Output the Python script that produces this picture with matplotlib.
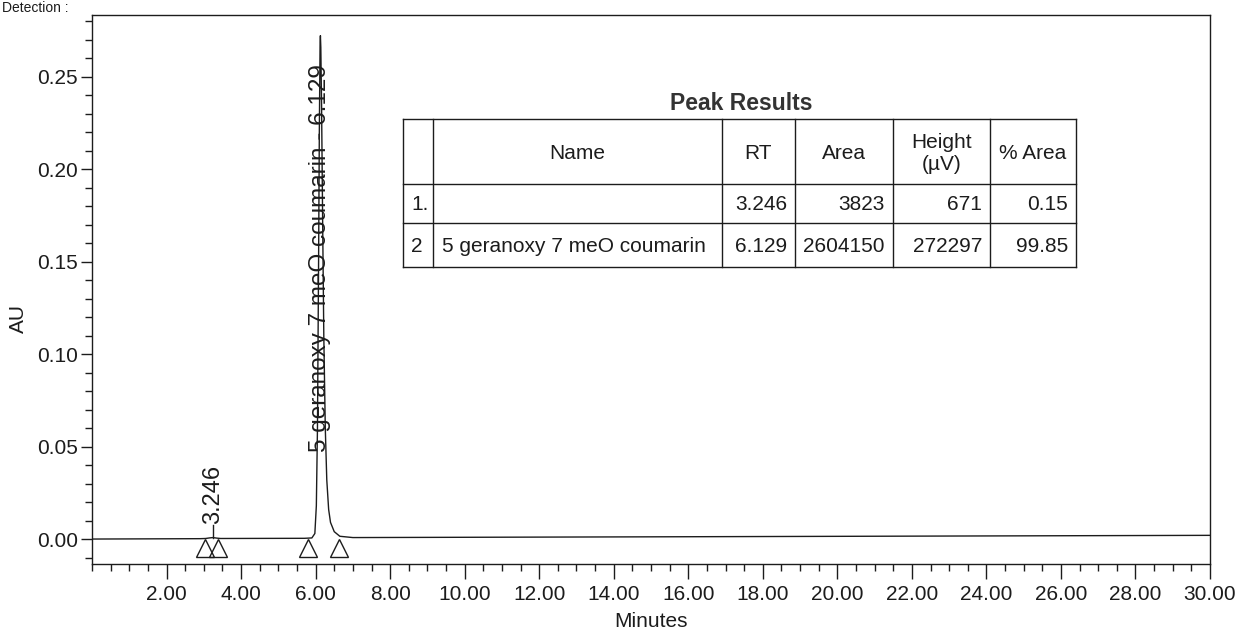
import matplotlib
matplotlib.use("Agg")
import matplotlib.pyplot as plt
from matplotlib.ticker import MultipleLocator, FixedLocator, FuncFormatter

plt.rcParams['font.family'] = ['Liberation Sans', 'DejaVu Sans']

# ---- chromatogram trace ----
time_min = [0.0, 2.90, 3.05, 3.15, 3.246, 3.35, 3.45, 5.70, 5.90, 5.98, 6.02, 6.05, 6.08,
            6.10, 6.12, 6.129, 6.14, 6.16, 6.19, 6.22, 6.26, 6.30, 6.35, 6.40, 6.50,
            6.65, 7.00, 15.0, 30.0]
absorb_au = [0.0000, 0.0002, 0.0003, 0.0006, 0.0008, 0.0005, 0.0003, 0.0004, 0.0006,
             0.0030, 0.0180, 0.0600, 0.1500, 0.2200, 0.2680, 0.2723, 0.2660, 0.2350,
             0.1700, 0.1100, 0.0600, 0.0320, 0.0160, 0.0090, 0.0040, 0.0015, 0.0008,
             0.0012, 0.0020]

# peak table
peak_no = ["1.", "2"]
peak_names = ["", "5 geranoxy 7 meO coumarin"]
peak_rt = [3.246, 6.129]
peak_area = [3823, 2604150]
peak_height_uv = [671, 272297]
peak_pct_area = [0.15, 99.85]

# integration markers (peak start / end)
marker_times = [3.03, 3.38, 5.80, 6.63]

x_tick_major = [2, 4, 6, 8, 10, 12, 14, 16, 18, 20, 22, 24, 26, 28, 30]
y_tick_major = [0.00, 0.05, 0.10, 0.15, 0.20, 0.25]

ink = '#1c1c1c'

W, H = 1241, 637
fig = plt.figure(figsize=(W / 100, H / 100), dpi=100)
ax = fig.add_axes([92 / W, 1 - 564 / H, (1210 - 92) / W, (564 - 15) / H])

ax.plot(time_min, absorb_au, color=ink, lw=1.0)
ax.set_xlim(0, 30)
ax.set_ylim(-0.0135, 0.2835)

# integration triangles just under the baseline
ax.plot(marker_times, [-0.0048] * len(marker_times), linestyle='none', marker='^',
        ms=13, mfc='none', mec=ink, mew=1.0)

# peak labels
ax.plot([peak_rt[0], peak_rt[0]], [0.0008, 0.0078], color=ink, lw=1.0)
ax.text(peak_rt[0], 0.0080, f"{peak_rt[0]:.3f}", rotation=90, ha='center', va='bottom',
        fontsize=17, color=ink)
ax.text(peak_rt[1], 0.047, f"{peak_names[1]} - {peak_rt[1]:.3f}", rotation=90,
        ha='center', va='bottom', fontsize=17.5, color=ink)

# axes styling
for s in ax.spines.values():
    s.set_color(ink)
    s.set_linewidth(1.0)
ax.xaxis.set_major_locator(FixedLocator(x_tick_major))
ax.xaxis.set_minor_locator(MultipleLocator(0.5))
ax.yaxis.set_major_locator(FixedLocator(y_tick_major))
ax.yaxis.set_minor_locator(MultipleLocator(0.01))
ax.xaxis.set_major_formatter(FuncFormatter(lambda v, p: f"{v:.2f}"))
ax.yaxis.set_major_formatter(FuncFormatter(lambda v, p: f"{v:.2f}"))
ax.tick_params(axis='x', which='major', direction='out', length=11, width=1.0,
               colors=ink, labelsize=15, pad=4)
ax.tick_params(axis='x', which='minor', direction='out', length=5, width=1.0, colors=ink)
ax.tick_params(axis='y', which='major', direction='out', length=8, width=1.0,
               colors=ink, labelsize=15, pad=2)
ax.tick_params(axis='y', which='minor', direction='out', length=5, width=1.0, colors=ink)
ax.set_xlabel("Minutes", fontsize=15, color=ink, labelpad=6)
ax.set_ylabel("AU", fontsize=15, color=ink)
ax.yaxis.set_label_coords(-0.057, 0.448)

# ---- peak results table (overlay in pixel coordinates) ----
ov = fig.add_axes([0, 0, 1, 1])
ov.set_xlim(0, W)
ov.set_ylim(H, 0)
ov.axis('off')
ov.patch.set_alpha(0)

col_edges = [403, 433, 722, 795, 893, 990, 1076]
row_edges = [119, 184, 223, 267]
for xe in col_edges:
    ov.plot([xe, xe], [row_edges[0], row_edges[-1]], color=ink, lw=1.0)
for ye in row_edges:
    ov.plot([col_edges[0], col_edges[-1]], [ye, ye], color=ink, lw=1.0)

ov.text((col_edges[0] + col_edges[-1]) / 2 + 2, 104, "Peak Results", ha='center',
        va='center', fontsize=16.5, fontweight='bold', color='#333333')

headers = ["Name", "RT", "Area", "Height\n(µV)", "% Area"]
hy = (row_edges[0] + row_edges[1]) / 2
for i, htxt in enumerate(headers):
    cx = (col_edges[i + 1] + col_edges[i + 2]) / 2
    ov.text(cx, hy + 2, htxt, ha='center', va='center', fontsize=15, color=ink,
            linespacing=1.25)

for r in range(2):
    ry = (row_edges[r + 1] + row_edges[r + 2]) / 2 + 1
    ov.text(col_edges[0] + 8, ry, peak_no[r], ha='left', va='center', fontsize=15, color=ink)
    ov.text(col_edges[1] + 9, ry, peak_names[r], ha='left', va='center', fontsize=15, color=ink)
    vals = [f"{peak_rt[r]:.3f}", f"{peak_area[r]}", f"{peak_height_uv[r]}",
            f"{peak_pct_area[r]:.2f}"]
    for j, v in enumerate(vals):
        ov.text(col_edges[j + 3] - 8, ry, v, ha='right', va='center', fontsize=15, color=ink)

# header text at the very top-left
fig.text(2 / W, 1 - 1 / H, "Detection :", ha='left', va='top', fontsize=10, color=ink)

fig.savefig("out.png", dpi=100)
